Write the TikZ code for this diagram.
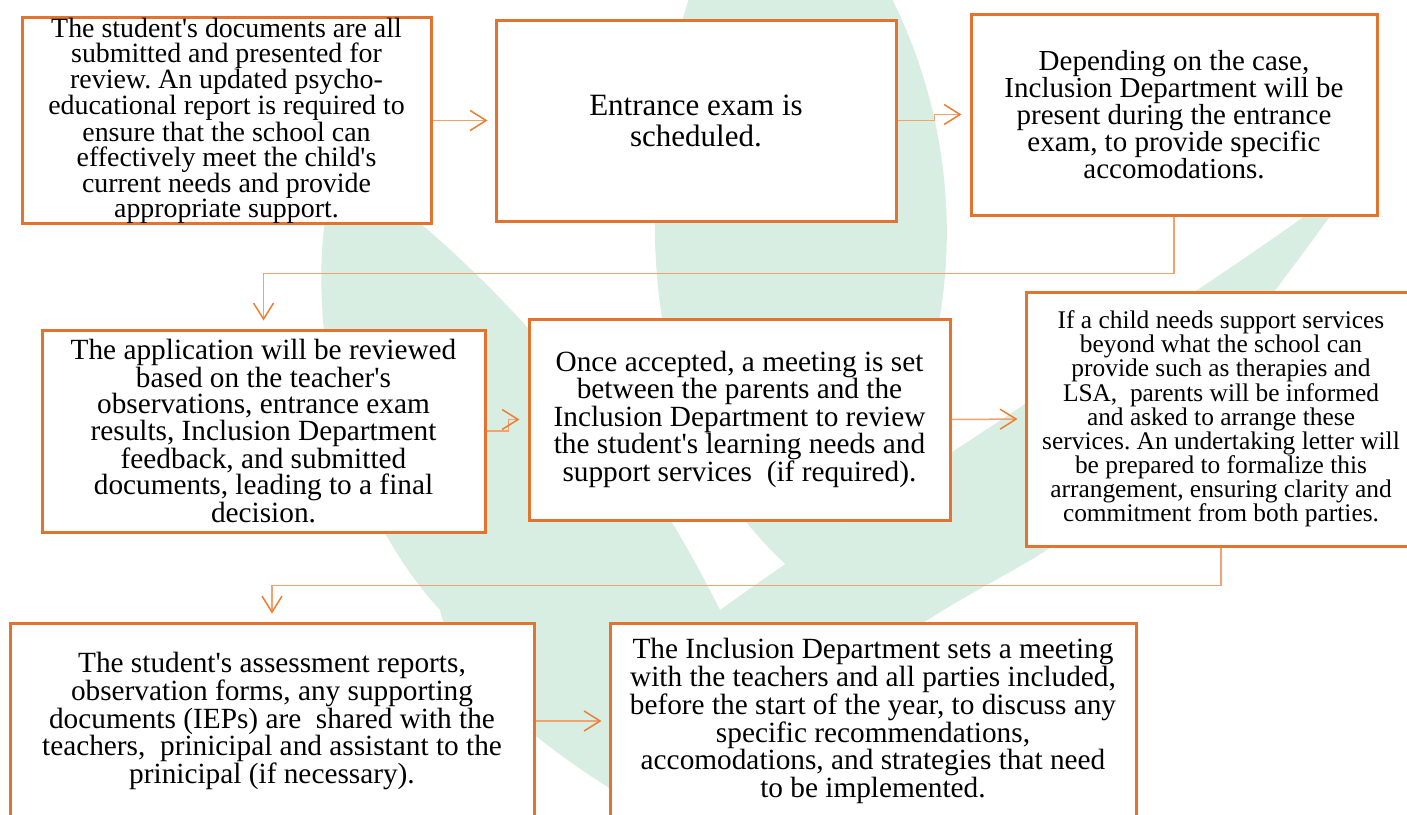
\documentclass[tikz,border=0pt]{standalone}
\usepackage{fontspec}
\setmainfont{Liberation Serif}
\usetikzlibrary{arrows.meta,calc}
\definecolor{boxor}{HTML}{E2742F}
\definecolor{lineor}{HTML}{F2A26A}
\definecolor{tipor}{HTML}{ED7D31}
\definecolor{leaf}{HTML}{D9EEE2}
\newcommand{\ap}{\textquotesingle}
\tikzset{
  stepbox/.style={draw=boxor, line width=3pt, fill=white, inner sep=0pt, align=center, font=\fontsize{29.3}{26.5}\selectfont},
  conn/.style={draw=lineor, line width=1.5pt, -{Straight Barb[length=16pt,width=20pt,color=tipor]}, shorten >=7pt},
}
\begin{document}
\frenchspacing
\begin{tikzpicture}[x=1pt,y=-1pt]
\useasboundingbox (0,0) rectangle (1407,814);
% background leaves
\fill[leaf] (690,-5) .. controls (640,150) and (620,420) .. (792,570) .. controls (950,460) and (995,200) .. (890,-5) -- cycle;
\fill[leaf] (340,160) .. controls (300,260) and (320,480) .. (440,610)
  .. controls (460,700) and (600,790) .. (720,850)
  .. controls (820,640) and (1000,590) .. (1060,540)
  .. controls (1180,420) and (1270,300) .. (1360,175)
  .. controls (1240,270) and (900,480) .. (720,610)
  .. controls (640,450) and (520,290) .. (340,160) -- cycle;
% boxes
\node[stepbox, minimum width=409pt, minimum height=201pt, font=\fontsize{27.9}{25}\selectfont] (b1) at (226.5,120.5)
 {The student\ap s documents are all\\submitted and presented for\\review. An updated psycho-\\educational report is required to\\ensure that the school can\\effectively meet the child\ap s\\current needs and provide\\appropriate support.};
\node[stepbox, minimum width=400pt, minimum height=201pt, font=\fontsize{31}{31}\selectfont] (b2) at (696,120.5)
 {Entrance exam is\\scheduled.};
\node[stepbox, minimum width=406pt, minimum height=201pt, font=\fontsize{29}{27}\selectfont] (b3) at (1174,114.5)
 {Depending on the case,\\Inclusion Department will be\\present during the entrance\\exam, to provide specific\\accomodations.};
\node[stepbox, minimum width=443pt, minimum height=202pt] (b4) at (263.5,431)
 {The application will be reviewed\\based on the teacher\ap s\\observations, entrance exam\\results, Inclusion Department\\feedback, and submitted\\documents, leading to a final\\decision.};
\node[stepbox, minimum width=421pt, minimum height=201pt] (b5) at (739.5,419.5)
 {Once accepted, a meeting is set\\between the parents and the\\Inclusion Department to review\\the student\ap s learning needs and\\support services\ \ (if required).};
\node[stepbox, minimum width=390pt, minimum height=254pt, font=\fontsize{25.4}{23}\selectfont] (b6) at (1221,419)
 {If a child needs support services\\beyond what the school can\\provide such as therapies and\\LSA,\ \ parents will be informed\\and asked to arrange these\\services. An undertaking letter will\\be prepared to formalize this\\arrangement, ensuring clarity and\\commitment from both parties.};
\node[stepbox, minimum width=524pt, minimum height=196pt] (b7) at (272,721)
 {The student\ap s assessment reports,\\observation forms, any supporting\\documents (IEPs) are\ \ shared with the\\teachers,\ \ prinicipal and assistant to the\\prinicipal (if necessary).};
\node[stepbox, minimum width=526pt, minimum height=196pt] (b8) at (873,721)
 {The Inclusion Department sets a meeting\\with the teachers and all parties included,\\before the start of the year, to discuss any\\specific recommendations,\\accomodations, and strategies that need\\to be implemented.};
% connectors
\draw[conn] (b1.east) -- (b2.west);
\draw[conn, shorten >=8pt] (b2.east) -- ++(37pt,0) |- (b3.west);
\draw[conn, shorten >=8pt] (b3.south) -- ++(0,-57pt) -| (b4.north);
\draw[conn, shorten >=8pt] (b4.east) -- ++(22pt,0) |- (b5.west);
\draw[conn] (b5.east) -- (b6.west);
\draw[conn, shorten >=8pt] (b6.south) -- ++(0,-38pt) -| (b7.north);
\draw[conn] (b7.east) -- (b8.west);
\end{tikzpicture}
\end{document}
